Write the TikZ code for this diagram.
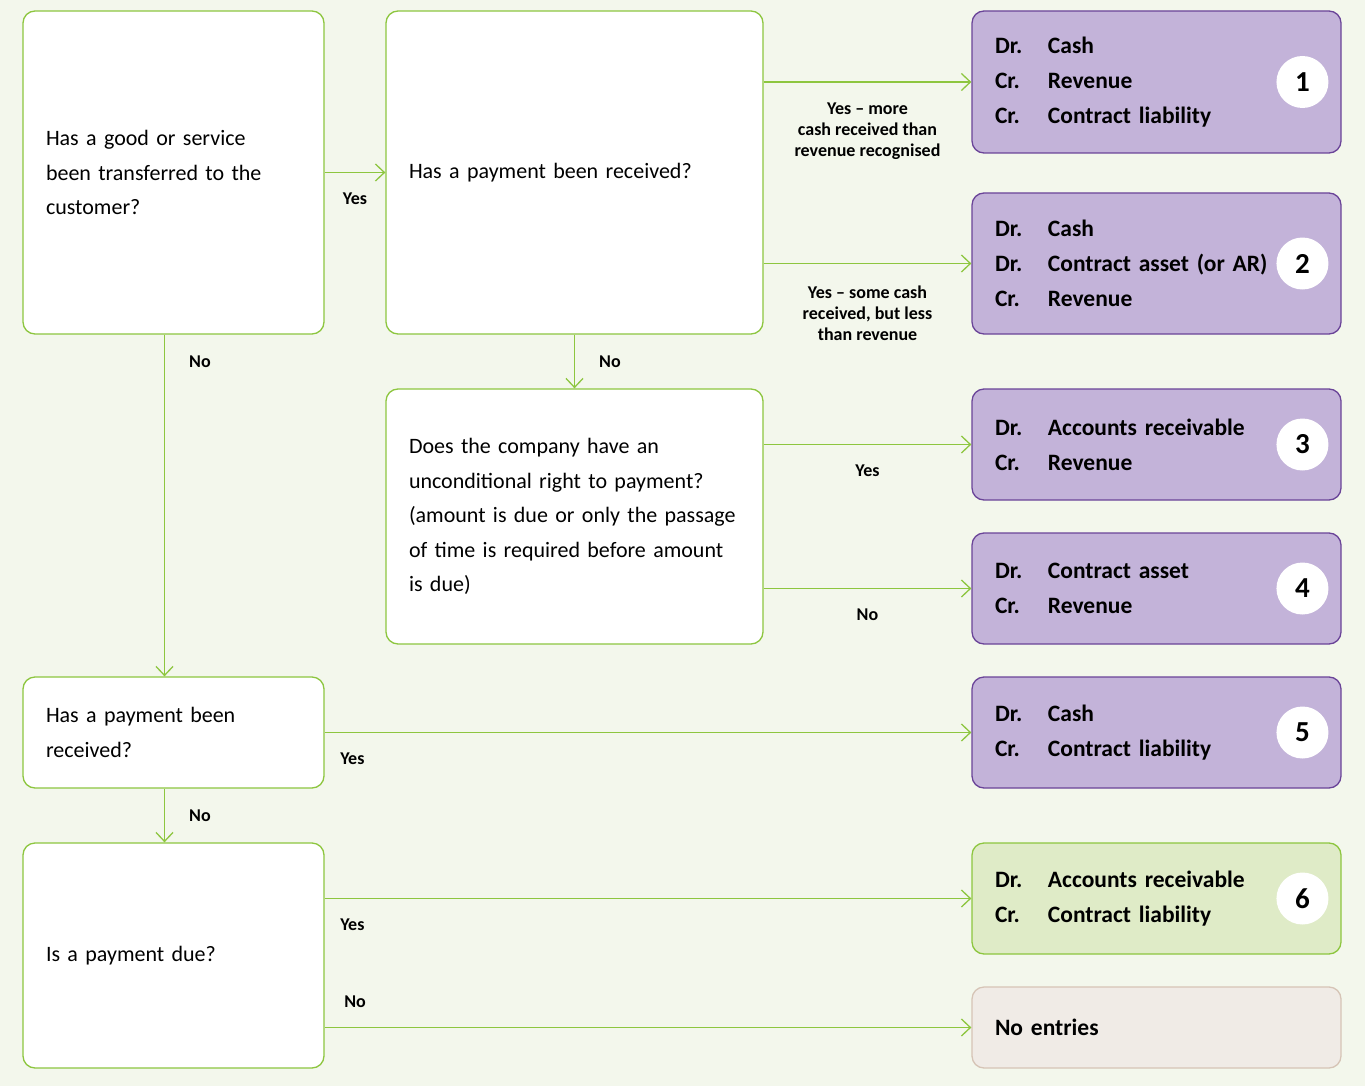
\documentclass[tikz,border=0pt]{standalone}
\usepackage{fontspec}
\setmainfont{Carlito}
\usepackage{xcolor}
\usetikzlibrary{arrows.meta, positioning}
\definecolor{bggreen}{HTML}{F3F7EC}
\definecolor{linegreen}{HTML}{8DC63F}
\definecolor{purplefill}{HTML}{C3B3D9}
\definecolor{purpleline}{HTML}{6A4498}
\definecolor{greenfill}{HTML}{DFEBC7}
\definecolor{greyfill}{HTML}{F0EBE6}
\definecolor{greyline}{HTML}{D6C4B6}
\newcommand{\acct}[2]{\makebox[53pt][l]{#1}#2}

\begin{document}
\begin{tikzpicture}[x=1pt, y=-1pt,
  question/.style = {shape=rectangle, rounded corners=12pt, draw=linegreen,
    line width=1.3pt, fill=white, align=left, inner xsep=23pt,
    font=\fontsize{22}{34.5}\selectfont},
  entry/.style = {shape=rectangle, rounded corners=12pt, draw=purpleline,
    fill=purplefill, line width=1.3pt, align=left, inner xsep=23pt,
    text width=323pt, font=\bfseries\fontsize{23.5}{35}\selectfont},
  num/.style = {circle, fill=white, minimum size=52pt, inner sep=0pt,
    font=\bfseries\fontsize{29}{29}\selectfont},
  lbl/.style = {font=\bfseries\fontsize{18}{21}\selectfont, align=center, inner sep=0pt},
  arr/.style = {draw=linegreen, line width=1.3pt, -{Straight Barb[length=9pt, width=17pt]}}]
  \fill[bggreen] (0,0) rectangle (1365,1086);
  \useasboundingbox (0,0) rectangle (1365,1086);

  % questions
  \node[question, text width=255pt, minimum height=323pt] (trans) at (173.5,172.5)
    {Has a good or service\\been transferred to the\\customer?};
  \node[question, text width=331pt, minimum height=323pt] (paid) at (574.5,172.5)
    {Has a payment been received?};
  \node[question, text width=331pt, minimum height=255pt] (right) at (574.5,516.5)
    {Does the company have an\\unconditional right to payment?\\(amount is due or only the passage\\of time is required before amount\\is due)};
  \node[question, text width=255pt, minimum height=111pt] (paidB) at (173.5,732.5)
    {Has a payment been\\received?};
  \node[question, text width=255pt, minimum height=225pt] (due) at (173.5,955.5)
    {Is a payment due?};

  % journal entries
  \node[entry, minimum height=142pt] (r1) at (1156.5,82)
    {\acct{Dr.}{Cash}\\\acct{Cr.}{Revenue}\\\acct{Cr.}{Contract liability}};
  \node[entry, minimum height=141pt] (r2) at (1156.5,263.5)
    {\acct{Dr.}{Cash}\\\acct{Dr.}{Contract asset (or AR)}\\\acct{Cr.}{Revenue}};
  \node[entry, minimum height=111pt] (r3) at (1156.5,444.5)
    {\acct{Dr.}{Accounts receivable}\\\acct{Cr.}{Revenue}};
  \node[entry, minimum height=111pt] (r4) at (1156.5,588.5)
    {\acct{Dr.}{Contract asset}\\\acct{Cr.}{Revenue}};
  \node[entry, minimum height=111pt] (r5) at (1156.5,732.5)
    {\acct{Dr.}{Cash}\\\acct{Cr.}{Contract liability}};
  \node[entry, minimum height=111pt, fill=greenfill, draw=linegreen] (r6) at (1156.5,898.5)
    {\acct{Dr.}{Accounts receivable}\\\acct{Cr.}{Contract liability}};
  \node[entry, minimum height=81pt, fill=greyfill, draw=greyline] (r7) at (1156.5,1027.5)
    {No entries};

  \foreach \r/\n in {r1/1, r2/2, r3/3, r4/4, r5/5, r6/6}
    \node[num, left=13pt of \r.east] (n\n) {\n};

  % connectors
  \draw[arr] (trans) -- node[lbl, below=20pt] {Yes} (paid);
  \draw[arr] ([xshift=-9pt]trans.south) -- node[lbl, pos=0.08, right=24pt] {No} ([xshift=-9pt]paidB.north);
  \draw[arr] (paid) -- node[lbl, right=24pt] {No} (right);
  \draw[arr] (paid.east |- r1) -- node[lbl, below=20pt] {Yes -- more\\cash received than\\revenue recognised} (r1);
  \draw[arr] (paid.east |- r2) -- node[lbl, below=22pt] {Yes -- some cash\\received, but less\\than revenue} (r2);
  \draw[arr] (right.east |- r3) -- node[lbl, below=20pt] {Yes} (r3);
  \draw[arr] (right.east |- r4) -- node[lbl, below=20pt] {No} (r4);
  \draw[arr] (paidB) -- node[lbl, pos=0, anchor=north west, xshift=15pt, yshift=-20pt] {Yes} (r5);
  \draw[arr] ([xshift=-9pt]paidB.south) -- node[lbl, right=24pt] {No} ([xshift=-9pt]due.north);
  \draw[arr] (due.east |- r6) -- node[lbl, pos=0, anchor=north west, xshift=15pt, yshift=-20pt] {Yes} (r6);
  \draw[arr] (due.east |- r7) -- node[lbl, pos=0, anchor=south west, xshift=19pt, yshift=19pt] {No} (r7);
\end{tikzpicture}
\end{document}
